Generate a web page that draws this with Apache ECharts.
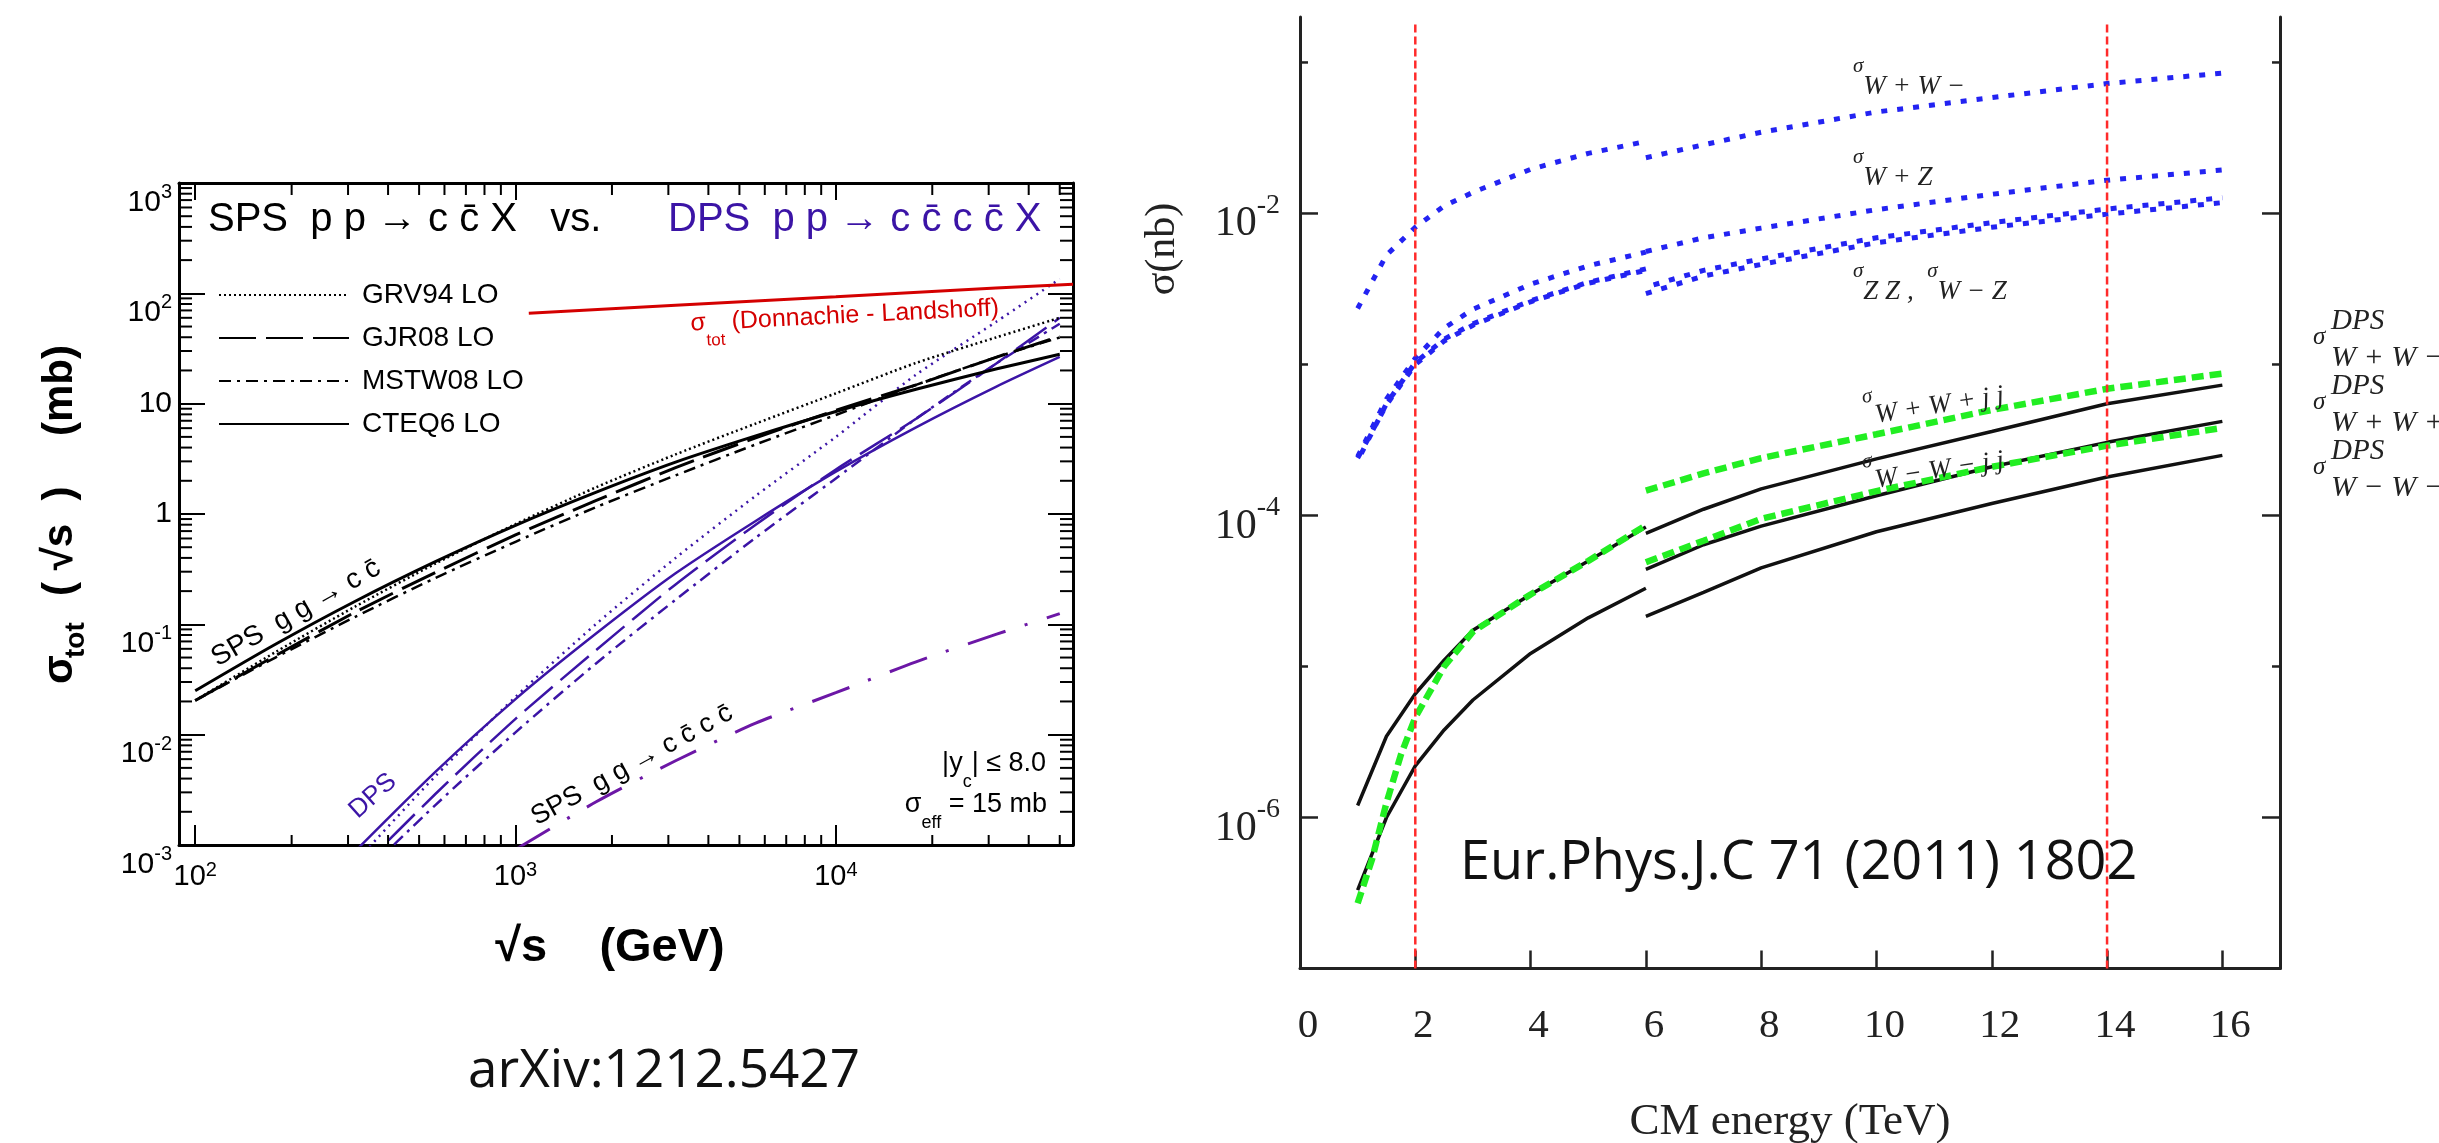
<!DOCTYPE html>
<html><head><meta charset="utf-8">
<script src="https://cdn.jsdelivr.net/npm/echarts@6/dist/echarts.min.js"></script>
<style>html,body{margin:0;padding:0;background:#fff;}#c{width:2439px;height:1143px;}</style>
</head><body><div id="c"></div>
<script>
// ---------------- Left chart: sigma_tot (mb) vs sqrt(s) (GeV) ----------------
const sqrtS      = [100, 178, 316, 562, 1000, 1780, 3160, 5620, 10000, 17800, 31600, 50000];
const spsGRV94   = [0.0204, 0.056, 0.145, 0.355, 0.81, 1.74, 3.47, 6.6, 12.4, 23.4, 39.8, 60];
const spsGJR08   = [0.0204, 0.052, 0.129, 0.295, 0.646, 1.32, 2.63, 4.9, 8.7, 14.8, 26.3, 40.7];
const spsMSTW08  = [0.0204, 0.050, 0.117, 0.263, 0.56, 1.15, 2.24, 4.27, 7.9, 14.8, 26.3, 39.8];
const spsCTEQ6   = [0.025, 0.066, 0.162, 0.37, 0.79, 1.57, 2.95, 5.1, 8.5, 13.5, 20.6, 28];
const sqrtSDps   = [316, 562, 1000, 1780, 3160, 5620, 10000, 17800, 31600, 50000];
const dpsGRV94   = [7.0e-4, 4.2e-3, 0.022, 0.10, 0.40, 1.46, 5.0, 18.3, 55, 135];
const dpsGJR08   = [5.5e-4, 2.9e-3, 0.0139, 0.058, 0.23, 0.80, 2.53, 7.3, 23, 60];
const dpsMSTW08  = [4.6e-4, 2.3e-3, 0.0105, 0.044, 0.167, 0.61, 2.1, 7.3, 23, 53];
const dpsCTEQ6   = [8.8e-4, 4.6e-3, 0.021, 0.082, 0.29, 0.865, 2.42, 6.1, 14.2, 26.5];
const sqrtS4c    = [1000, 1780, 3160, 5620, 10000, 17800, 31600, 50000];
const sps4c      = [9.1e-4, 2.45e-3, 5.8e-3, 0.0127, 0.024, 0.0457, 0.081, 0.125];
const sqrtSDL    = [1100, 3160, 10000, 31600, 55000];
const sigmaDL    = [66, 78, 93, 112, 121];
const pdfNames   = ['GRV94 LO', 'GJR08 LO', 'MSTW08 LO', 'CTEQ6 LO'];

// ---------------- Right chart: sigma (nb) vs CM energy (TeV) ----------------
const eLeft      = [1, 1.5, 2, 2.5, 3, 4, 5, 6];
const eLeftFine  = [1, 1.25, 1.5, 1.75, 2, 2.5, 3, 4, 5, 6];
const eRight     = [6, 7, 8, 10, 12, 14, 16];
const wpwmLeft   = [2.35e-3, 5.3e-3, 8.1e-3, 1.12e-2, 1.38e-2, 1.96e-2, 2.5e-2, 3.0e-2];
const wpwmRight  = [0.0234, 0.0285, 0.0345, 0.047, 0.0585, 0.0725, 0.085];
const wpzLeft    = [2.45e-4, 5.9e-4, 1.1e-3, 1.74e-3, 2.32e-3, 3.4e-3, 4.5e-3, 5.55e-3];
const wpzRight   = [5.6e-3, 6.9e-3, 8.0e-3, 0.0106, 0.0134, 0.0166, 0.0194];
const zzLeft     = [2.4e-4, 5.4e-4, 1.0e-3, 1.43e-3, 1.82e-3, 2.6e-3, 3.45e-3, 4.2e-3];
const zzRight    = [2.95e-3, 3.85e-3, 4.6e-3, 6.4e-3, 8.1e-3, 9.9e-3, 0.0118];
const wmzLeft    = [2.3e-4, 5.5e-4, 1.03e-3, 1.47e-3, 1.86e-3, 2.64e-3, 3.5e-3, 4.3e-3];
const wmzRight   = [3.25e-3, 4.2e-3, 5.0e-3, 6.9e-3, 8.7e-3, 0.0107, 0.0127];
const wpwpjjLeft = [1.2e-6, 3.45e-6, 6.6e-6, 1.1e-5, 1.74e-5, 3.0e-5, 5.0e-5, 8.4e-5];
const wpwpjjRight= [7.6e-5, 1.1e-4, 1.5e-4, 2.37e-4, 3.6e-4, 5.5e-4, 7.3e-4];
const wmwmjjRight= [4.4e-5, 6.4e-5, 8.5e-5, 1.35e-4, 2.1e-4, 3.05e-4, 4.2e-4];
const lowLeft    = [3.3e-7, 1.0e-6, 2.2e-6, 3.8e-6, 6.0e-6, 1.22e-5, 2.1e-5, 3.3e-5];
const lowRight   = [2.15e-5, 3.1e-5, 4.5e-5, 7.8e-5, 1.2e-4, 1.8e-4, 2.5e-4];
const dpsTopLeft = [2.7e-7, 5.3e-7, 1.25e-6, 2.6e-6, 4.6e-6, 1.0e-5, 1.7e-5, 3.0e-5, 5.0e-5, 8.6e-5];
const dpsTopRight= [1.46e-4, 1.9e-4, 2.4e-4, 3.45e-4, 5.0e-4, 6.9e-4, 8.7e-4];
const dpsLowRight= [4.9e-5, 6.8e-5, 9.5e-5, 1.45e-4, 2.1e-4, 2.9e-4, 3.8e-4];
const markerE    = [2, 14];
const markerSig  = [1e-7, 0.185];
const xTicksRight = [0, 2, 4, 6, 8, 10, 12, 14, 16];

// ---------------- helpers ----------------
const SANS = "'Liberation Sans', Arial, sans-serif";
const SERIF = "'Liberation Serif', 'Times New Roman', serif";
const OPEN = "'Open Sans', Lato, sans-serif";
const PURPLE = '#3b14a6', VIOLET = '#6c17a6', RED = '#d40000';
const BLUE = '#2323f2', GREEN = '#22ee22';
const NB = '\u00a0';
const sp = n => NB.repeat(n);

function pow10(v) { const l = Math.log10(v), e = Math.round(l); return Math.abs(l - e) > 1e-6 ? null : e; }
const leftXFmt = v => { const e = pow10(v); return e === null ? '' : '{b|10}{s|' + e + '}'; };
const leftYFmt = v => { const e = pow10(v); if (e === null) return ''; if (e === 0) return '{p|1}'; if (e === 1) return '{p|10}'; return '{b|10}{s|' + e + '}'; };
const rightYFmt = v => { const e = pow10(v); if (e === null || e % 2 !== 0) return ''; return '{b|10}{s|' + e + '}'; };

function ln(name, xs, ys, color, width, dash, g, extra) {
  return Object.assign({
    type: 'line', name, xAxisIndex: g === 0 ? 0 : 2, yAxisIndex: g === 0 ? 0 : 2,
    data: xs.map((x, i) => [x, ys[i]]), showSymbol: false, symbol: 'none',
    lineStyle: { color, width, type: dash || 'solid', cap: 'butt' }, itemStyle: { color },
    smooth: g === 0 ? 0.25 : false, clip: true, silent: true, z: 3, animation: false
  }, extra || {});
}

// minor ticks (log decade subdivisions) for the left chart
const xMinor = [], yMinor = [];
for (let k = 2; k <= 4; k++) for (let m = 2; m <= 9; m++) { const v = m * Math.pow(10, k); if (v < 55000) xMinor.push(v); }
for (let k = -3; k <= 2; k++) for (let m = 2; m <= 9; m++) yMinor.push(m * Math.pow(10, k));
const yDecRight = [1e-6, 1e-5, 1e-4, 1e-3, 1e-2, 1e-1];

function tickSeries(data, xi, yi, render) {
  return { type: 'custom', coordinateSystem: 'cartesian2d', xAxisIndex: xi, yAxisIndex: yi,
    data, renderItem: render, silent: true, clip: false, z: 10, animation: false };
}
const stK = { stroke: '#000', lineWidth: 2 };
const renderXMinor = (p, api) => {
  const cs = p.coordSys, c = api.coord([api.value(0), api.value(1)]);
  const yb = cs.y + cs.height, yt = cs.y;
  return { type: 'group', children: [
    { type: 'line', shape: { x1: c[0], y1: yb, x2: c[0], y2: yb - 10 }, style: stK },
    { type: 'line', shape: { x1: c[0], y1: yt, x2: c[0], y2: yt + 12 }, style: stK }] };
};
const renderYMinor = (p, api) => {
  const cs = p.coordSys, c = api.coord([api.value(0), api.value(1)]);
  const xl = cs.x, xr = cs.x + cs.width;
  return { type: 'group', children: [
    { type: 'line', shape: { x1: xl, y1: c[1], x2: xl + 13, y2: c[1] }, style: stK },
    { type: 'line', shape: { x1: xr, y1: c[1], x2: xr - 13, y2: c[1] }, style: stK }] };
};
const renderYRight = (p, api) => {
  const cs = p.coordSys, v = api.value(1), c = api.coord([api.value(0), v]);
  const e = pow10(v), L = (e % 2 === 0) ? 18 : 8;
  const st = { stroke: '#222', lineWidth: 2.5 };
  const xl = cs.x, xr = cs.x + cs.width;
  return { type: 'group', children: [
    { type: 'line', shape: { x1: xl, y1: c[1], x2: xl + L, y2: c[1] }, style: st },
    { type: 'line', shape: { x1: xr, y1: c[1], x2: xr - L, y2: c[1] }, style: st }] };
};

// text helpers
function txt(x, y, text, font, fill, align, rot) {
  return { type: 'text', x, y, rotation: rot || 0, silent: true, z: 50,
    style: { text, font, fill, align: align || 'left', textAlign: align || 'left', verticalAlign: 'middle', textVerticalAlign: 'middle' } };
}
function rtxt(x, y, text, rich, align, rot) {
  return { type: 'text', x, y, rotation: rot || 0, silent: true, z: 50,
    style: { text, rich, align: align || 'left', textAlign: align || 'left', verticalAlign: 'middle', textVerticalAlign: 'middle' } };
}
const sigRich = {
  s: { fontSize: 21, fontFamily: SERIF, fontStyle: 'italic', fill: '#222', lineHeight: 22, verticalAlign: 'top' },
  w: { fontSize: 27, fontFamily: SERIF, fontStyle: 'italic', fill: '#222', lineHeight: 44, verticalAlign: 'bottom' }
};
const subRich = (size, subSize, fill, weight) => ({
  a: { fontSize: size, fontFamily: SANS, fontWeight: weight || 'normal', fill, lineHeight: size + 4, verticalAlign: 'top' },
  b: { fontSize: subSize, fontFamily: SANS, fontWeight: weight || 'normal', fill, lineHeight: size + 14, verticalAlign: 'bottom' }
});
const R90 = Math.PI / 2;

const graphics = [
  // left chart title
  txt(208, 220, 'SPS' + sp(2) + 'p p \u2192 c c\u0304 X' + sp(3) + 'vs.', '40px ' + SANS, '#000'),
  txt(668, 220, 'DPS' + sp(2) + 'p p \u2192 c c\u0304 c c\u0304 X', '40px ' + SANS, PURPLE),
  // red label
  rtxt(845, 323, '{a|\u03c3}{b|tot}{a| (Donnachie - Landshoff)}', subRich(25, 17, RED), 'center', 0.05),
  // curve labels
  txt(296, 613, 'SPS' + sp(2) + 'g g \u2192 c c\u0304', '28px ' + SANS, '#000', 'center', 0.52),
  txt(373, 796, 'DPS', '26px ' + SANS, PURPLE, 'center', 0.73),
  txt(632, 765, 'SPS' + sp(2) + 'g g \u2192 c c\u0304 c c\u0304', '27px ' + SANS, '#000', 'center', 0.5),
  rtxt(1046, 771, '{a||y}{b|c}{a|| \u2264 8.0}', subRich(27, 18, '#000'), 'right'),
  rtxt(1047, 812, '{a|\u03c3}{b|eff}{a| = 15 mb}', subRich(27, 18, '#000'), 'right'),
  // y title left (pieces, reading bottom to top)
  txt(60, 684, '\u03c3', 'bold 42px ' + SANS, '#000', 'left', R90),
  txt(76, 658, 'tot', 'bold 28px ' + SANS, '#000', 'left', R90),
  txt(60, 596, '(' + sp(1) + '\u221as' + sp(2) + ')', 'bold 42px ' + SANS, '#000', 'left', R90),
  txt(60, 436, '(mb)', 'bold 42px ' + SANS, '#000', 'left', R90),
  txt(610, 948, '\u221as' + sp(4) + '(GeV)', 'bold 47px ' + SANS, '#000', 'center'),
  txt(664, 1072, 'arXiv:1212.5427', '53px ' + OPEN, '#111', 'center'),
  // right chart texts
  txt(1460, 864, 'Eur.Phys.J.C 71 (2011) 1802', '54px ' + OPEN, '#111', 'left'),
  txt(1163, 249, '\u03c3(nb)', '42px ' + SERIF, '#222', 'center', R90),
  txt(1790, 1122, 'CM energy (TeV)', '45px ' + SERIF, '#222', 'center'),
  rtxt(1853, 78, '{s|\u03c3}{w|W + W \u2212}', sigRich),
  rtxt(1853, 169, '{s|\u03c3}{w|W + Z}', sigRich),
  rtxt(1853, 283, '{s|\u03c3}{w|Z Z ,' + sp(2) + '}{s|\u03c3}{w|W \u2212 Z}', sigRich),
  rtxt(1933, 398, '{s|\u03c3}{w|W + W + j j}', sigRich, 'center', 0.155),
  rtxt(1933, 463, '{s|\u03c3}{w|W \u2212 W \u2212 j j}', sigRich, 'center', 0.155)
];
// DPS labels on the far right
[['W + W \u2212', 0], ['W + W +', 65], ['W \u2212 W \u2212', 130]].forEach(([sub, dy]) => {
  graphics.push(txt(2313, 337 + dy, '\u03c3', 'italic 25px ' + SERIF, '#222', 'left'));
  graphics.push(txt(2331, 321 + dy, 'DPS', 'italic 29px ' + SERIF, '#222', 'left'));
  graphics.push(txt(2331, 358 + dy, sub, 'italic 30px ' + SERIF, '#222', 'left'));
});

const axK = { lineStyle: { color: '#000', width: 3 } };
const ax2 = { lineStyle: { color: '#222', width: 3 }, onZero: false };

const option = {
  animation: false,
  backgroundColor: '#ffffff',
  grid: [
    { left: 179, top: 183, width: 894, height: 662, outerBoundsMode: 'none', containLabel: false },
    { left: 1300, top: 17, width: 980, height: 951.5, outerBoundsMode: 'none', containLabel: false }
  ],
  xAxis: [
    { type: 'log', gridIndex: 0, position: 'bottom', min: 89, max: 55000, logBase: 10, axisLine: axK,
      axisTick: { inside: true, length: 20, lineStyle: { color: '#000', width: 2 } }, splitLine: { show: false },
      axisLabel: { formatter: leftXFmt, margin: 15, hideOverlap: false, showMinLabel: true, showMaxLabel: true,
        rich: { b: { fontSize: 29, fontFamily: SANS, color: '#000', lineHeight: 31, verticalAlign: 'bottom' },
                s: { fontSize: 20, fontFamily: SANS, color: '#000', lineHeight: 23, verticalAlign: 'top' } } } },
    { type: 'log', gridIndex: 0, position: 'top', min: 89, max: 55000, logBase: 10, axisLine: axK,
      axisTick: { inside: true, length: 17, lineStyle: { color: '#000', width: 2 } }, splitLine: { show: false },
      axisLabel: { show: false } },
    { type: 'value', gridIndex: 1, position: 'bottom', min: 0, max: 17, interval: 2, axisLine: ax2,
      axisTick: { inside: true, length: 18, lineStyle: { color: '#222', width: 2.5 } }, splitLine: { show: false },
      axisLabel: { formatter: v => (xTicksRight.indexOf(v) >= 0 ? String(v) : ''), margin: 37, hideOverlap: false,
        fontSize: 41, fontFamily: SERIF, color: '#222', padding: [0, 0, 0, 16] } }
  ],
  yAxis: [
    { type: 'log', gridIndex: 0, position: 'left', min: 1e-3, max: 1e3, logBase: 10, axisLine: axK,
      axisTick: { inside: true, length: 26, lineStyle: { color: '#000', width: 2 } }, splitLine: { show: false },
      axisLabel: { formatter: leftYFmt, margin: 7, hideOverlap: false,
        rich: { p: { fontSize: 30, fontFamily: SANS, color: '#000', lineHeight: 31 },
                b: { fontSize: 30, fontFamily: SANS, color: '#000', lineHeight: 31, padding: [20, 0, 0, 0], verticalAlign: 'top' },
                s: { fontSize: 20, fontFamily: SANS, color: '#000', lineHeight: 22, padding: [15, 0, 0, 0], verticalAlign: 'top' } } } },
    { type: 'log', gridIndex: 0, position: 'right', min: 1e-3, max: 1e3, logBase: 10, axisLine: axK,
      axisTick: { inside: true, length: 25, lineStyle: { color: '#000', width: 2 } }, splitLine: { show: false },
      axisLabel: { show: false } },
    { type: 'log', gridIndex: 1, position: 'left', min: 1e-7, max: 0.2, logBase: 10, axisLine: ax2,
      axisTick: { show: false }, splitLine: { show: false },
      axisLabel: { formatter: rightYFmt, margin: 20, hideOverlap: false,
        rich: { b: { fontSize: 42, fontFamily: SERIF, color: '#222', lineHeight: 44, padding: [12, 0, 0, 0], verticalAlign: 'top' },
                s: { fontSize: 28, fontFamily: SERIF, color: '#222', lineHeight: 30, verticalAlign: 'top' } } } },
    { type: 'log', gridIndex: 1, position: 'right', min: 1e-7, max: 0.2, logBase: 10, axisLine: ax2,
      axisTick: { show: false }, splitLine: { show: false }, axisLabel: { show: false } }
  ],
  legend: {
    left: 218, top: 280, orient: 'vertical', padding: 0, itemWidth: 130, itemHeight: 14, itemGap: 13,
    selectedMode: false, data: pdfNames, itemStyle: { opacity: 0 },
    textStyle: { fontSize: 28, fontFamily: SANS, color: '#000', lineHeight: 30, padding: [0, 0, 0, 8] }
  },
  graphic: graphics,
  series: [
    // DPS (purple)
    ln('DPS ' + pdfNames[0], sqrtSDps, dpsGRV94, PURPLE, 2.5, [2, 5], 0),
    ln('DPS ' + pdfNames[1], sqrtSDps, dpsGJR08, PURPLE, 2.5, [37, 10], 0),
    ln('DPS ' + pdfNames[2], sqrtSDps, dpsMSTW08, PURPLE, 2.5, [12, 6, 3, 6], 0),
    ln('DPS ' + pdfNames[3], sqrtSDps, dpsCTEQ6, PURPLE, 2.5, 'solid', 0),
    // SPS (black)
    ln(pdfNames[0], sqrtS, spsGRV94, '#000', 2.5, [2, 3], 0),
    ln(pdfNames[1], sqrtS, spsGJR08, '#000', 3, [37, 10], 0),
    ln(pdfNames[2], sqrtS, spsMSTW08, '#000', 2.5, [12, 6, 3, 6], 0),
    ln(pdfNames[3], sqrtS, spsCTEQ6, '#000', 3, 'solid', 0),
    ln('SPS gg->ccbarccbar', sqrtS4c, sps4c, VIOLET, 3, [40, 20, 3, 20], 0),
    ln('sigma_tot DL', sqrtSDL, sigmaDL, RED, 3, 'solid', 0, { smooth: false }),
    tickSeries(xMinor.map(v => [v, 1e-3]), 0, 0, renderXMinor),
    tickSeries(yMinor.map(v => [89, v]), 0, 0, renderYMinor),
    // right chart: blue dotted
    ln('WpWm L', eLeft, wpwmLeft, BLUE, 5, [6, 10], 1),
    ln('WpWm R', eRight, wpwmRight, BLUE, 5, [6, 10], 1),
    ln('WpZ L', eLeft, wpzLeft, BLUE, 5, [6, 10], 1),
    ln('WpZ R', eRight, wpzRight, BLUE, 5, [6, 10], 1),
    ln('ZZ L', eLeft, zzLeft, BLUE, 5, [6, 10], 1),
    ln('ZZ R', eRight, zzRight, BLUE, 5, [6, 10], 1),
    ln('WmZ L', eLeft, wmzLeft, BLUE, 5, [6, 10], 1, { lineStyle: { color: BLUE, width: 5, type: [6, 10], dashOffset: 8, cap: 'butt' } }),
    ln('WmZ R', eRight, wmzRight, BLUE, 5, [6, 10], 1, { lineStyle: { color: BLUE, width: 5, type: [6, 10], dashOffset: 8, cap: 'butt' } }),
    // black solid
    ln('WpWpjj L', eLeft, wpwpjjLeft, '#111', 3.5, 'solid', 1),
    ln('WpWpjj R', eRight, wpwpjjRight, '#111', 3.5, 'solid', 1),
    ln('WmWmjj R', eRight, wmwmjjRight, '#111', 3.5, 'solid', 1),
    ln('low L', eLeft, lowLeft, '#111', 3.5, 'solid', 1),
    ln('low R', eRight, lowRight, '#111', 3.5, 'solid', 1),
    // green DPS
    ln('DPS top L', eLeftFine, dpsTopLeft, GREEN, 6.5, [12, 6], 1, { z: 5 }),
    ln('DPS top R', eRight, dpsTopRight, GREEN, 6.5, [12, 6], 1, { z: 5 }),
    ln('DPS low R', eRight, dpsLowRight, GREEN, 6.5, [12, 6], 1, { z: 5 }),
    // red markers
    ln('Tevatron', [markerE[0], markerE[0]], markerSig, '#ff2a2a', 2.5, [8, 4], 1, { z: 8 }),
    ln('LHC', [markerE[1], markerE[1]], markerSig, '#ff2a2a', 2.5, [8, 4], 1, { z: 8 }),
    tickSeries(yDecRight.map(v => [0, v]), 2, 2, renderYRight)
  ]
};
const chart = echarts.init(document.getElementById('c'), null, { renderer: 'canvas', width: 2439, height: 1143 });
chart.setOption(option);
</script></body></html>
